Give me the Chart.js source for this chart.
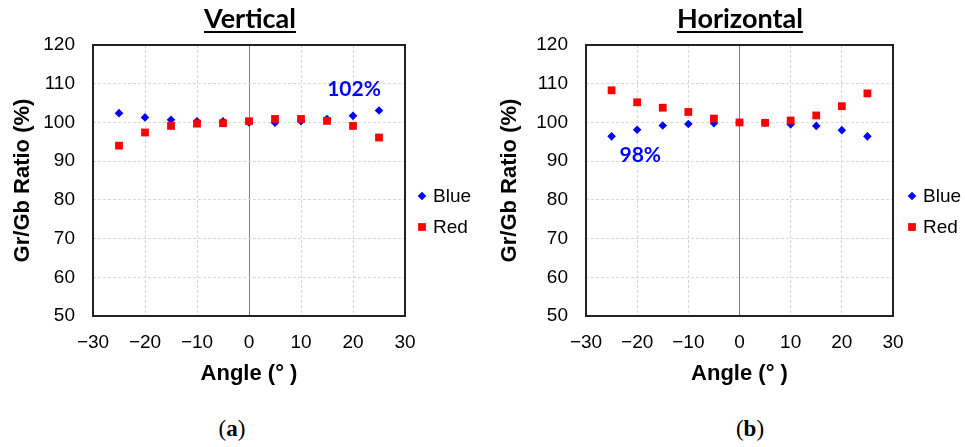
<!DOCTYPE html>
<html>
<head>
<meta charset="utf-8">
<script src="https://cdn.jsdelivr.net/npm/chart.js"></script>
<style>
  body { margin: 0; background: #fff; }
  #wrap { position: relative; width: 965px; height: 447px; overflow: hidden; }
  .box { position: absolute; top: 0; height: 400px; }
  .ttl { position: absolute; top: 1px; width: 300px; text-align: center; font: bold 27px Lato, sans-serif;
         text-decoration: underline; text-decoration-thickness: 2px; text-underline-offset: 3px; color: #000; z-index: 2; }
  .cap { position: absolute; top: 416px; width: 100px; text-align: center; font: 23px "Liberation Serif", serif; color: #000; }
</style>
</head>
<body>
<div id="wrap">
  <div class="box" style="left:0;width:482px"><canvas id="vert"></canvas></div>
  <div class="box" style="left:482px;width:483px"><canvas id="horz"></canvas></div>
  <div class="ttl" style="left:100px">Vertical</div>
  <div class="ttl" style="left:590px">Horizontal</div>
  <div class="cap" style="left:182px">(<b>a</b>)</div>
  <div class="cap" style="left:700px">(<b>b</b>)</div>
</div>
<script>
const angles = [-25, -20, -15, -10, -5, 0, 5, 10, 15, 20, 25];
const vertBlue = [102.4, 101.3, 100.7, 100.3, 100.3, 100.0, 99.9, 100.3, 100.9, 101.7, 103.1];
const vertRed = [94.0, 97.4, 99.1, 99.7, 99.8, 100.3, 100.9, 100.9, 100.4, 99.1, 96.1];
const horzBlue = [96.4, 98.1, 99.2, 99.6, 99.8, 100.0, 99.9, 99.5, 99.1, 98.0, 96.4];
const horzRed = [108.3, 105.2, 103.8, 102.7, 101.0, 100.0, 99.9, 100.5, 101.8, 104.2, 107.5];
const xTicks = [-30, -20, -10, 0, 10, 20, 30];
const yTicks = [50, 60, 70, 80, 90, 100, 110, 120];

const toPoints = vals => vals.map((v, i) => ({ x: angles[i], y: v }));

// frame around the plot, legend on the right and the % note
const extras = {
  id: 'extras',
  beforeDatasetsDraw(chart) {
    const { ctx, chartArea: a } = chart;
    ctx.save();
    ctx.strokeStyle = '#222';
    ctx.lineWidth = 2;
    ctx.strokeRect(a.left, a.top, a.right - a.left, a.bottom - a.top);
    ctx.restore();
  },
  afterDatasetsDraw(chart, args, opts) {
    const { ctx, chartArea: a, scales } = chart;
    ctx.save();
    const items = chart.data.datasets.slice().sort((p, q) => p.legendIndex - q.legendIndex);
    items.forEach((ds, i) => {
      const px = a.right + opts.legendDx;
      const py = a.top + 151 + i * 31;
      ctx.fillStyle = ds.backgroundColor;
      ctx.strokeStyle = ds.backgroundColor;
      Chart.helpers.drawPoint(ctx, { pointStyle: ds.pointStyle, radius: ds.pointRadius, borderWidth: 0 }, px, py);
      ctx.fillStyle = '#000';
      ctx.font = '19px "Liberation Sans", Arial, sans-serif';
      ctx.textBaseline = 'middle';
      ctx.textAlign = 'left';
      ctx.fillText(ds.label, px + 11, py + 1);
    });
    ctx.fillStyle = '#0000ff';
    ctx.font = 'bold 21px Lato, sans-serif';
    ctx.textAlign = 'center';
    ctx.textBaseline = 'middle';
    ctx.fillText(opts.note.text, scales.x.getPixelForValue(opts.note.x), scales.y.getPixelForValue(opts.note.y));
    ctx.restore();
  }
};

function makeChart(id, blue, red, note, axisWidth, padRight, yTitlePad, legendDx) {
  return new Chart(document.getElementById(id), {
    type: 'scatter',
    data: {
      datasets: [{
        label: 'Blue',
        data: toPoints(blue),
        pointStyle: 'rectRot',
        pointRadius: 4.3,
        backgroundColor: '#0000ff',
        borderWidth: 0,
        order: 1,
        legendIndex: 0
      }, {
        label: 'Red',
        data: toPoints(red),
        pointStyle: 'rect',
        pointRadius: 5.5,
        backgroundColor: '#ff0000',
        borderWidth: 0,
        order: 0,
        legendIndex: 1
      }]
    },
    options: {
      responsive: true,
      maintainAspectRatio: false,
      animation: false,
      events: [],
      layout: { padding: { top: 45, right: padRight, left: 0, bottom: 0 } },
      plugins: {
        legend: { display: false },
        tooltip: { enabled: false },
        extras: { note: note, legendDx: legendDx }
      },
      scales: {
        x: {
          type: 'linear',
          min: -30,
          max: 30,
          afterBuildTicks: s => { s.ticks = xTicks.map(v => ({ value: v })); },
          afterFit: s => { s.height = 84; },
          ticks: {
            padding: 15,
            color: '#000',
            font: { family: '"Liberation Sans", Arial, sans-serif', size: 19 },
            callback: v => String(v).replace('-', '\u2212')
          },
          grid: {
            drawTicks: false,
            color: ctx => (ctx.tick && ctx.tick.value === 0 ? '#808080' : '#d9d9d9'),
            lineWidth: 1
          },
          border: { display: false, dash: ctx => (ctx.tick && ctx.tick.value === 0 ? [] : [3, 2]) },
          title: {
            display: true,
            text: 'Angle (° )',
            color: '#000',
            padding: { top: 0, bottom: 13 },
            font: { family: '"Liberation Sans", Arial, sans-serif', size: 22, weight: 'bold' }
          }
        },
        y: {
          min: 50,
          max: 120,
          afterBuildTicks: s => { s.ticks = yTicks.map(v => ({ value: v })); },
          afterFit: s => { s.width = axisWidth; },
          ticks: {
            padding: 18,
            color: '#000',
            font: { family: '"Liberation Sans", Arial, sans-serif', size: 19 }
          },
          grid: { drawTicks: false, color: '#d9d9d9', lineWidth: 1 },
          border: { display: false, dash: [3, 2] },
          title: {
            display: true,
            text: 'Gr/Gb Ratio (%)',
            color: '#000',
            padding: { top: yTitlePad, bottom: 0 },
            font: { family: '"Liberation Sans", Arial, sans-serif', size: 22, weight: 'bold' }
          }
        }
      }
    },
    plugins: [extras]
  });
}

makeChart('vert', vertBlue, vertRed, { text: '102%', x: 20.2, y: 108.5 }, 93, 77, 10, 17);
makeChart('horz', horzBlue, horzRed, { text: '98%', x: -19.4, y: 91.6 }, 104, 72, 15, 19);
</script>
</body>
</html>
